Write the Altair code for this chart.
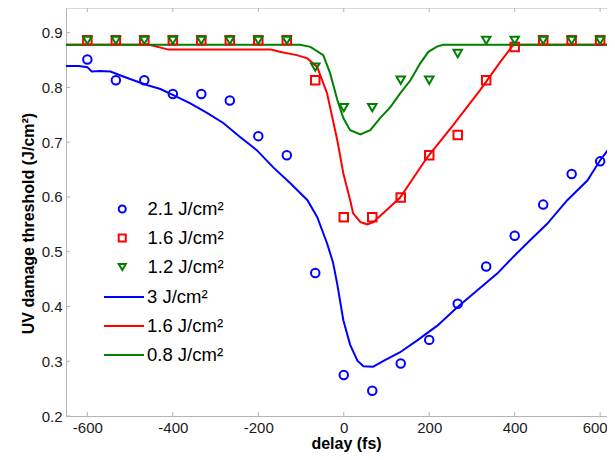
import altair as alt
import pandas as pd

# ---- data ----
delay_pts = [-600, -533.3, -466.7, -400, -333.3, -266.7, -200, -133.3, -66.7, 0,
             66.7, 133.3, 200, 266.7, 333.3, 400, 466.7, 533.3, 600]
thr_21 = [0.851, 0.813, 0.813, 0.788, 0.788, 0.776, 0.711, 0.676, 0.461, 0.275,
          0.246, 0.296, 0.339, 0.405, 0.473, 0.529, 0.586, 0.642, 0.665]
thr_16 = [0.886, 0.886, 0.886, 0.886, 0.886, 0.886, 0.886, 0.886, 0.813, 0.563,
          0.563, 0.599, 0.676, 0.713, 0.813, 0.874, 0.886, 0.886, 0.886]
thr_12 = [0.886, 0.886, 0.886, 0.886, 0.886, 0.886, 0.886, 0.886, 0.837, 0.763,
          0.763, 0.813, 0.813, 0.862, 0.886, 0.886, 0.886, 0.886, 0.886]

line3_x = [-650, -620, -600, -590, -570, -546, -516, -492, -459, -429, -399, -359, -319,
           -282, -242, -203, -165, -125, -85, -62, -39, -25, -15, -1, 15, 32, 46, 69,
           92, 131, 172, 219, 265, 312, 359, 396, 436, 476, 523, 570, 600, 635]
line3_y = [0.839, 0.839, 0.837, 0.829, 0.830, 0.829, 0.820, 0.813, 0.804, 0.797, 0.786,
           0.771, 0.753, 0.735, 0.709, 0.685, 0.654, 0.625, 0.594, 0.563, 0.515, 0.480,
           0.440, 0.375, 0.330, 0.301, 0.291, 0.290, 0.300, 0.316, 0.338, 0.365, 0.398,
           0.429, 0.460, 0.490, 0.521, 0.551, 0.594, 0.630, 0.667, 0.703]

line16_x = [-650, -500, -455, -410, -170, -150, -110, -85, -62, -39, -15, -1, 15, 22,
            39, 55, 69, 92, 132, 195, 256, 319, 366, 396, 420, 635]
line16_y = [0.878, 0.878, 0.878, 0.869, 0.869, 0.865, 0.859, 0.853, 0.837, 0.789, 0.703,
            0.643, 0.594, 0.570, 0.554, 0.550, 0.554, 0.570, 0.599, 0.672, 0.731, 0.795,
            0.846, 0.877, 0.878, 0.878]

line08_x = [-650, -102, -78, -48, -32, -15, -1, 15, 39, 62, 85, 109, 132, 156, 179,
            198, 219, 233, 635]
line08_y = [0.878, 0.878, 0.874, 0.859, 0.826, 0.777, 0.744, 0.722, 0.714, 0.722, 0.744,
            0.764, 0.789, 0.813, 0.844, 0.865, 0.875, 0.878, 0.878]

pt_keys = ["m21", "m16", "m12"]
pt_labels = ["2.1 J/cm²", "1.6 J/cm²", "1.2 J/cm²"]
pt_colors = ["#0000ff", "#ff0000", "#008000"]
pt_shapes = ["circle", "square", "triangle-down"]

ln_keys = ["l3", "l16", "l08"]
ln_labels = ["3 J/cm²", "1.6 J/cm²", "0.8 J/cm²"]
ln_colors = ["#0000ff", "#ff0000", "#008000"]

x_ticks = [-600, -400, -200, 0, 200, 400, 600]
y_ticks = [0.2, 0.3, 0.4, 0.5, 0.6, 0.7, 0.8, 0.9]

# ---- tables ----
pts = pd.concat([
    pd.DataFrame({"delay": delay_pts, "thr": thr_21, "series": "m21"}),
    pd.DataFrame({"delay": delay_pts, "thr": thr_16, "series": "m16"}),
    pd.DataFrame({"delay": delay_pts, "thr": thr_12, "series": "m12"}),
], ignore_index=True)
lines = pd.concat([
    pd.DataFrame({"delay": line3_x, "thr": line3_y, "series": "l3"}),
    pd.DataFrame({"delay": line16_x, "thr": line16_y, "series": "l16"}),
    pd.DataFrame({"delay": line08_x, "thr": line08_y, "series": "l08"}),
], ignore_index=True)

W, H = 541, 408
GREY = "#b4b4b4"
FONT = "Liberation Sans"

xs = alt.Scale(domain=[-650, 616], nice=False, zero=False)
ys = alt.Scale(domain=[0.2, 0.945], nice=False, zero=False)

ax_x = alt.Axis(title="delay (fs)", values=x_ticks, labelExpr="'' + datum.value",
                labelFlush=10, labelFlushOffset=7,
                titleX=280, titleY=32, titleBaseline="alphabetic", titleAlign="center")
ax_y = alt.Axis(title="UV damage threshold (J/cm²)", values=y_ticks, format=".1f",
                titleY=215)


def lmap(keys, labels):
    return "{" + ",".join(f"'{k}':'{v}'" for k, v in zip(keys, labels)) + "}[datum.value]"


leg_common = dict(orient="none", title=None, labelFontSize=18.5, labelFont=FONT,
                  labelColor="#000000", symbolStrokeWidth=2, clipHeight=20,
                  rowPadding=9, padding=0)
leg_pts = alt.Legend(legendX=47, legendY=191, labelExpr=lmap(pt_keys, pt_labels),
                     symbolSize=50, labelOffset=16, **leg_common)
leg_lns = alt.Legend(legendX=37, legendY=279, labelExpr=lmap(ln_keys, ln_labels),
                     symbolType="stroke", symbolSize=1600, labelOffset=2, **leg_common)

line_layer = alt.Chart(lines).mark_line(strokeWidth=2, clip=True).encode(
    x=alt.X("delay:Q", scale=xs, axis=ax_x),
    y=alt.Y("thr:Q", scale=ys, axis=ax_y),
    stroke=alt.Stroke("series:N", scale=alt.Scale(domain=ln_keys, range=ln_colors),
                      legend=leg_lns))

pt_layer = alt.Chart(pts).mark_point(filled=False, strokeWidth=2, opacity=1, size=72).encode(
    x=alt.X("delay:Q", scale=xs, axis=ax_x),
    y=alt.Y("thr:Q", scale=ys, axis=ax_y),
    color=alt.Color("series:N", scale=alt.Scale(domain=pt_keys, range=pt_colors),
                    legend=leg_pts),
    shape=alt.Shape("series:N", scale=alt.Scale(domain=pt_keys, range=pt_shapes),
                    legend=leg_pts))

xt = pd.DataFrame({"delay": x_ticks})
yt = pd.DataFrame({"thr": y_ticks})
bot_ticks = alt.Chart(xt).mark_rule(color=GREY).encode(
    x=alt.X("delay:Q", scale=xs, axis=ax_x), y=alt.value(H), y2=alt.value(H - 4))
top_ticks = alt.Chart(xt).mark_rule(color=GREY).encode(
    x=alt.X("delay:Q", scale=xs, axis=ax_x), y=alt.value(0), y2=alt.value(4))
left_ticks = alt.Chart(yt).mark_rule(color=GREY).encode(
    y=alt.Y("thr:Q", scale=ys, axis=ax_y), x=alt.value(0), x2=alt.value(4))
top_border = alt.Chart(alt.Data(values=[{}])).mark_rule(color=GREY).encode(
    x=alt.value(0), x2=alt.value(W), y=alt.value(0))

chart = alt.layer(line_layer, pt_layer, bot_ticks, top_ticks, left_ticks, top_border).properties(
    width=W, height=H,
    autosize=alt.AutoSizeParams(type="none"),
    padding={"left": 58, "top": 0, "right": 0, "bottom": 36},
    background="white",
).configure_view(stroke=None).configure_axis(
    grid=False, ticks=False, tickSize=0, domainColor=GREY, domainWidth=1,
    labelFont=FONT, labelFontSize=15, labelColor="#1a1a1a",
    titleFont=FONT, titleFontSize=16, titleFontWeight="bold", titleColor="#000000",
).configure_axisX(labelPadding=4).configure_axisY(labelPadding=4, titlePadding=5)

chart.save("out.html", embed_options={"renderer": "svg", "actions": False})
